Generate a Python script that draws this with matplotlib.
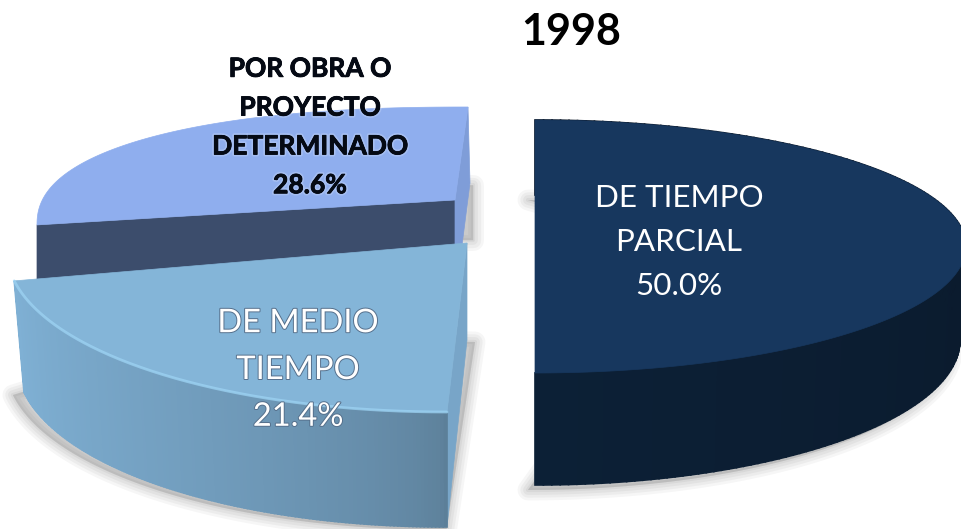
import numpy as np
import matplotlib
matplotlib.use("Agg")
import matplotlib.pyplot as plt
import matplotlib.patheffects as pe
from matplotlib.colors import to_rgb
from matplotlib.patches import Polygon

title = "1998"
categories = ["DE TIEMPO\nPARCIAL", "DE MEDIO\nTIEMPO", "POR OBRA O\nPROYECTO\nDETERMINADO"]
values = [50.0, 21.4, 28.6]

W, H = 962, 529


def arc(g, t, bottom=False):
    # t is clockwise from the top of the pie, in radians
    if bottom:
        cx, cy, a, b = g["cx"], g["cy2"], g["a2"], g["b2"]
    else:
        cx, cy, a, b = g["cx"], g["cy"], g["a"], g["b"]
    n = g.get("n", 2.0)
    s = np.sin(t)
    c = np.cos(t)
    s = np.sign(s) * np.abs(s) ** (2 / n)
    c = np.sign(c) * np.abs(c) ** (2 / n)
    return cx + a * s - g["sx"] * c, cy - b * c


def lerp(c1, c2, f):
    c1, c2 = np.array(to_rgb(c1)), np.array(to_rgb(c2))
    return tuple(c1 + (c2 - c1) * f)


def soft(ax, pts, z):
    for lw, al in [(15, 0.07), (11, 0.08), (7, 0.09), (3, 0.10)]:
        ax.add_patch(Polygon(pts, closed=True, fc="#808080", ec="#808080", lw=lw, alpha=al,
                             joinstyle="round", zorder=z))


def draw_shadow(ax, g, t):
    s = g["shadow"]
    if s is None:
        # only the short band right of the back corner
        x, y = arc(g, t[-1:])
        soft(ax, [(x[0] + 5, y[0] + 78), (x[0] + 5, y[0] + 133), (x[0] - 10, y[0] + 133), (x[0] - 10, y[0] + 78)],
             g["z"] - 1)
        return
    x, y = arc(g, t, bottom=True)
    xs = np.concatenate([[s["x0"]], x * s["sc"] + g["cx"] * (1 - s["sc"]) + s["dx"], [s["x1"]]])
    ys = np.concatenate([[s["y0"]], y + s["dy"], [s["y1"]]])
    soft(ax, np.column_stack([xs, ys]), g["z"] - 1)


def draw_slice(ax, g, t0, t1):
    t = np.linspace(t0, t1, 160)
    if "warp" in g:
        # perspective squeezes the wedge towards its back edge
        u = t1 + (t - t1) * g["warp"]
    else:
        u = t
    draw_shadow(ax, g, u)
    z = g["z"]
    ux, uy = g["apex"]

    xt, yt = arc(g, u)

    # straight cut faces
    for edge, c in g["faces"]:
        ax.add_patch(Polygon(edge(g, xt, yt), closed=True, fc=c, ec=c, lw=0.5, zorder=z))

    # outer wall, in short strips so the colour can shift along it
    if g.get("wall0"):
        xb, yb = arc(g, u, bottom=True)
        for i in range(len(t) - 1):
            f = (i / (len(t) - 2)) ** g.get("wall_pow", 1.0)
            c = lerp(g["wall0"], g["wall1"], f)
            q = [(xt[i], yt[i]), (xt[i + 1], yt[i + 1]), (xb[i + 1], yb[i + 1]), (xb[i], yb[i])]
            ax.add_patch(Polygon(q, closed=True, fc=c, ec=c, lw=1.2, zorder=z))

    top = np.vstack([[ux, uy], np.column_stack([xt, yt])])
    ax.add_patch(Polygon(top, closed=True, fc=g["top"], ec=g["top"], lw=0.5, zorder=z + 0.1))
    if g.get("rim"):
        ax.plot(xt, yt, color=g["rim"], lw=2.0, alpha=0.75, zorder=z + 0.2, solid_capstyle="round")


def mid_face(g, xt, yt):
    # right hand cut of the wedge
    ux, uy = g["apex"]
    return [(ux, uy), (xt[0], yt[0]), (xt[0], yt[0] + 115), (ux, uy + 97)]


def upper_right_face(g, xt, yt):
    ux, uy = g["apex"]
    return [(xt[-1], yt[-1]), (ux, uy), (ux, uy + 100), (xt[-1] + 2, yt[-1] + 76)]


def upper_front_face(g, xt, yt):
    ux, uy = g["apex"]
    return [(xt[0], yt[0]), (ux, uy), (ux, uy + 100), (xt[0], yt[0] + 100)]


geom = [
    dict(apex=(535, 246.5), cx=535, cy=246.5, a=431, b=126.5, sx=0, cy2=340, a2=425, b2=145, z=3,
         top="#17375e", wall0="#0a1524", wall1="#0c2036", faces=[],
         shadow=dict(x0=528, y0=200, x1=700, y1=250, dx=-7, dy=5, sc=1.0)),
    dict(apex=(467, 243), cx=467, cy=243, a=460, b=169, sx=-20, cy2=353, a2=450, b2=174, z=5,
         top="#84b5d8", wall0="#5c7f99", wall1="#7fb0d4", wall_pow=0.6, rim="#9dd3f3",
         faces=[(mid_face, "#78a5c8")],
         shadow=dict(x0=475, y0=342, x1=200, y1=337, dx=0, dy=3, sc=1.025)),
    dict(apex=(455, 200), cx=468, cy=225, a=431, b=118, n=2.3, sx=0, cy2=325, a2=431, b2=118, z=1, warp=0.874,
         top="#8faeee", faces=[(upper_front_face, "#3c4d6c"), (upper_right_face, "#7f9dd8")],
         shadow=None),
]

fig = plt.figure(figsize=(W / 100, H / 100), dpi=100, facecolor="white")
ax = fig.add_axes([0, 0, 1, 1])
ax.set_xlim(0, W)
ax.set_ylim(H, 0)
ax.axis("off")

start = 0.0
for v, g in zip(values, geom):
    sweep = v / sum(values) * 2 * np.pi
    draw_slice(ax, g, start, start + sweep)
    start += sweep

font = ["Lato", "DejaVu Sans"]
ax.text(571, 32, title, fontsize=31, fontweight="bold", family=font, color="black",
        ha="center", va="center", zorder=10)

# label text comes from the data, position from the picture
ax.text(679, 242, f"{categories[0]}\n{values[0]:.1f}%", fontsize=22.6, family=font, color="white",
        ha="center", va="center", linespacing=1.7, zorder=10)
ax.text(298, 370, f"{categories[1]}\n{values[1]:.1f}%", fontsize=23.5, family=font, color="white",
        ha="center", va="center", linespacing=1.7, zorder=10,
        path_effects=[pe.withStroke(linewidth=1.4, foreground="#56708c")])
ax.text(310, 127, f"{categories[2]}\n{values[2]:.1f}%", fontsize=19, fontweight="bold", family=font,
        color="#050a14", ha="center", va="center", linespacing=1.74, zorder=10,
        path_effects=[pe.withStroke(linewidth=3, foreground="white", alpha=0.2),
                      pe.withStroke(linewidth=0.6, foreground="#050a14")])

fig.savefig("out.png", dpi=100, facecolor="white")
